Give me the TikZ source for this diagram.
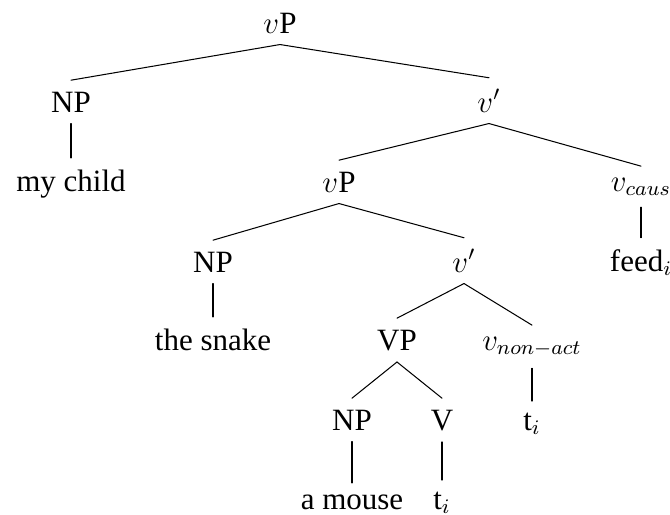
\documentclass[tikz,border=0pt]{standalone}
\usepackage{fontspec}
\setmainfont{Liberation Serif}
\begin{document}
\begin{tikzpicture}[x=0.3871pt,y=-0.3871pt,
  lbl/.style={anchor=base,inner xsep=0pt,inner ysep=4.26pt,
              font=\fontsize{12}{14.5}\selectfont},
  branch/.style={line width=0.4pt,line cap=round}]
\useasboundingbox (0,0) rectangle (670,514);
\clip (0,0) rectangle (670,514);

% labels, placed on their baselines
\node[lbl] (vP0)    at (280,33)  {$v$P};
\node[lbl] (NP1)    at (71,112)  {NP};
\node[lbl] (vb1)    at (489,112) {$v'$};
\node[lbl] (child)  at (71,191)  {my child};
\node[lbl] (vP2)    at (339,192) {$v$P};
\node[lbl] (vcaus)  at (641,191) {$v_{caus}$};
\node[lbl] (feed)   at (641,271) {feed$_i$};
\node[lbl] (NP3)    at (213,272) {NP};
\node[lbl] (vb3)    at (464,272) {$v'$};
\node[lbl] (snake)  at (213,350) {the snake};
\node[lbl] (VP4)    at (397,350) {VP};
\node[lbl] (vnon)   at (532,350) {$v_{non-act}$};
\node[lbl] (NP5)    at (352,430) {NP};
\node[lbl] (V5)     at (442,430) {V};
\node[lbl] (tnon)   at (532,430) {t$_i$};
\node[lbl] (mouse)  at (352,509) {a mouse};
\node[lbl] (tV)     at (442,509) {t$_i$};

% branches
\draw[branch] (vP0.south) -- (NP1.north);
\draw[branch] (vP0.south) -- (vb1.north);
\draw[branch] (NP1.south) -- (child.north);
\draw[branch] (vb1.south) -- (vP2.north);
\draw[branch] (vb1.south) -- (vcaus.north);
\draw[branch] (vcaus.south) -- (feed.north);
\draw[branch] (vP2.south) -- (NP3.north);
\draw[branch] (vP2.south) -- (vb3.north);
\draw[branch] (NP3.south) -- (snake.north);
\draw[branch] (vb3.south) -- (VP4.north);
\draw[branch] (vb3.south) -- (vnon.north);
\draw[branch] (VP4.south) -- (NP5.north);
\draw[branch] (VP4.south) -- (V5.north);
\draw[branch] (vnon.south) -- (tnon.north);
\draw[branch] (NP5.south) -- (mouse.north);
\draw[branch] (V5.south) -- (tV.north);
\end{tikzpicture}
\end{document}
